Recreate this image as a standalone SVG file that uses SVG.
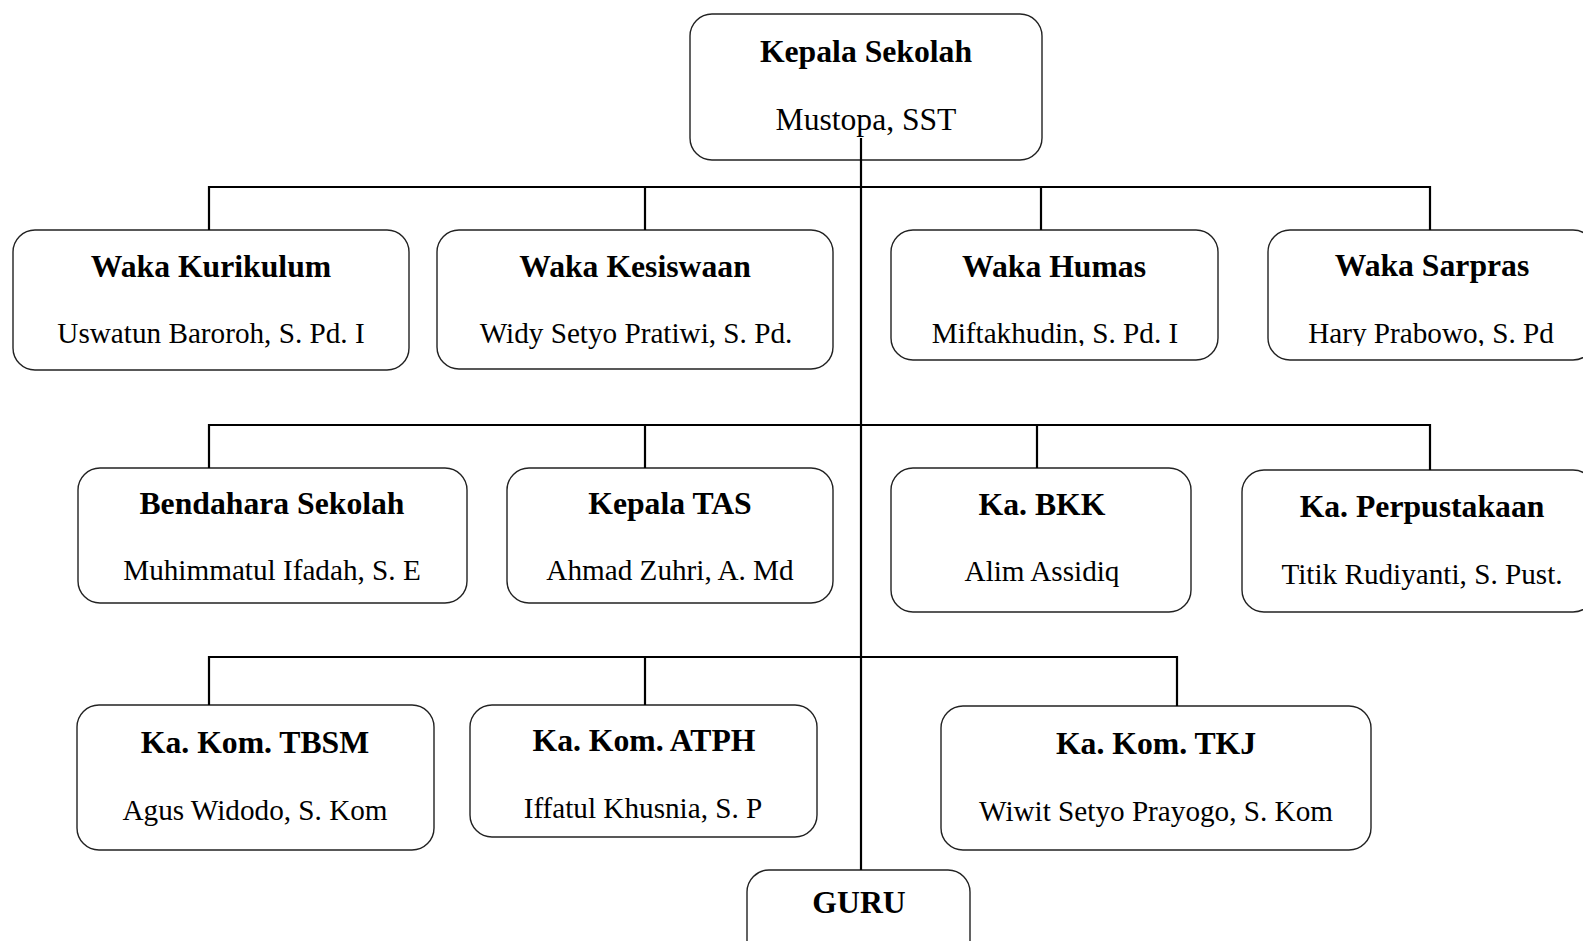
<svg xmlns="http://www.w3.org/2000/svg" width="1583" height="941" viewBox="0 0 1583 941">
<style>
.box{fill:#fff;stroke:#222;stroke-width:1.4}
.t{font-family:"Liberation Serif","Times New Roman",serif;font-weight:bold;font-size:31.7px;text-anchor:middle;fill:#000}
.s{font-family:"Liberation Serif","Times New Roman",serif;font-size:29.2px;text-anchor:middle;fill:#000}
.c{fill:none;stroke:#000;stroke-width:2.2}
</style>
<defs>
<clipPath id="clipHumas"><rect x="891" y="300" width="327" height="46"/></clipPath>
<clipPath id="clipSarpras"><rect x="1268" y="300" width="330" height="46"/></clipPath>
</defs>
<rect width="1583" height="941" fill="#fff"/>
<g id="kepala-sekolah">
<rect class="box" x="690" y="14" width="352" height="146" rx="22"/>
<text class="t" x="866" y="62">Kepala Sekolah</text>
<text class="s" x="866" y="130" style="font-size:31.6px">Mustopa, SST</text>
</g>
<g id="waka-kurikulum">
<rect class="box" x="13" y="230" width="396" height="140" rx="22"/>
<text class="t" x="211" y="277">Waka Kurikulum</text>
<text class="s" x="211" y="343">Uswatun Baroroh, S. Pd. I</text>
</g>
<g id="waka-kesiswaan">
<rect class="box" x="437" y="230" width="396" height="139" rx="22"/>
<text class="t" x="635" y="277">Waka Kesiswaan</text>
<text class="s" x="636" y="343">Widy Setyo Pratiwi, S. Pd.</text>
</g>
<g id="waka-humas">
<rect class="box" x="891" y="230" width="327" height="130" rx="22"/>
<text class="t" x="1054" y="277">Waka Humas</text>
<text class="s" x="1055" y="343" clip-path="url(#clipHumas)">Miftakhudin, S. Pd. I</text>
</g>
<g id="waka-sarpras">
<rect class="box" x="1268" y="230" width="327" height="130" rx="22"/>
<text class="t" x="1432" y="276">Waka Sarpras</text>
<text class="s" x="1431" y="343" clip-path="url(#clipSarpras)">Hary Prabowo, S. Pd</text>
</g>
<g id="bendahara-sekolah">
<rect class="box" x="78" y="468" width="389" height="135" rx="22"/>
<text class="t" x="272" y="514">Bendahara Sekolah</text>
<text class="s" x="272" y="580">Muhimmatul Ifadah, S. E</text>
</g>
<g id="kepala-tas">
<rect class="box" x="507" y="468" width="326" height="135" rx="22"/>
<text class="t" x="670" y="514">Kepala TAS</text>
<text class="s" x="670" y="580">Ahmad Zuhri, A. Md</text>
</g>
<g id="ka-bkk">
<rect class="box" x="891" y="468" width="300" height="144" rx="22"/>
<text class="t" x="1042" y="515">Ka. BKK</text>
<text class="s" x="1042" y="581">Alim Assidiq</text>
</g>
<g id="ka-perpustakaan">
<rect class="box" x="1242" y="470" width="353" height="142" rx="22"/>
<text class="t" x="1422" y="517">Ka. Perpustakaan</text>
<text class="s" x="1422" y="584">Titik Rudiyanti, S. Pust.</text>
</g>
<g id="ka-kom-tbsm">
<rect class="box" x="77" y="705" width="357" height="145" rx="22"/>
<text class="t" x="255" y="753">Ka. Kom. TBSM</text>
<text class="s" x="255" y="820">Agus Widodo, S. Kom</text>
</g>
<g id="ka-kom-atph">
<rect class="box" x="470" y="705" width="347" height="132" rx="22"/>
<text class="t" x="644" y="751">Ka. Kom. ATPH</text>
<text class="s" x="643" y="818">Iffatul Khusnia, S. P</text>
</g>
<g id="ka-kom-tkj">
<rect class="box" x="941" y="706" width="430" height="144" rx="22"/>
<text class="t" x="1156" y="754">Ka. Kom. TKJ</text>
<text class="s" x="1156" y="821">Wiwit Setyo Prayogo, S. Kom</text>
</g>
<g id="guru">
<rect class="box" x="747" y="870" width="223" height="95" rx="22"/>
<text class="t" x="859" y="913">GURU</text>
</g>
<g id="connectors">
<path class="c" d="M861 138 V870"/>
<path class="c" d="M209 230 V187 H1430 V230 M645 187 V230 M1041 187 V230"/>
<path class="c" d="M209 468 V425 H1430 V470 M645 425 V468 M1037 425 V468"/>
<path class="c" d="M209 705 V657 H1177 V706 M645 657 V705"/>
</g>
</svg>
